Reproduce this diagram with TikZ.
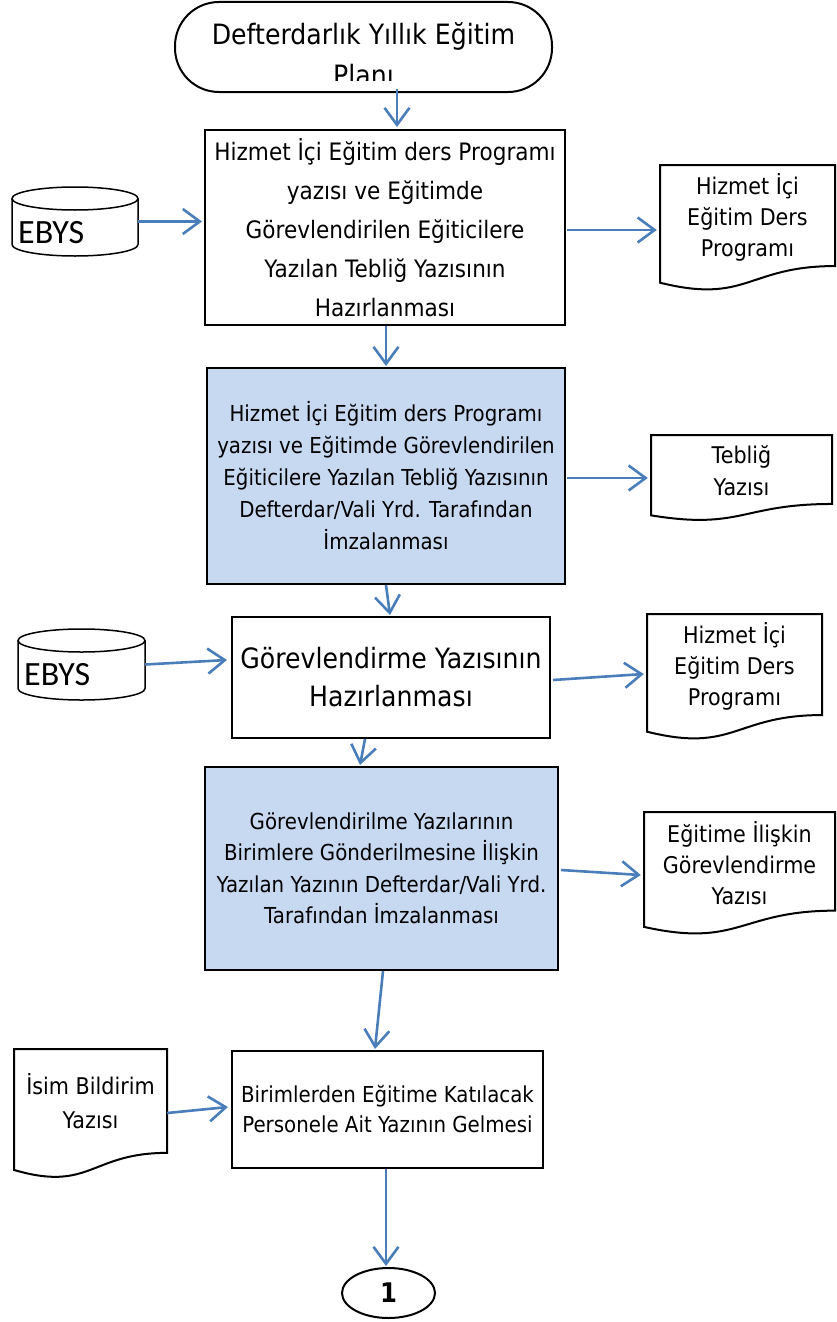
\documentclass[tikz,border=0pt]{standalone}
\usepackage{fontspec}
\setmainfont{DejaVu Sans}[FakeStretch=0.9]
\newfontfamily\ebysfont{Carlito}
\usetikzlibrary{arrows.meta,calc,shapes.geometric}
\definecolor{arrowblue}{HTML}{4A7EBB}
\definecolor{boxblue}{HTML}{C6D9F1}
\tikzset{
  procbox/.style={draw=black, line width=2pt, fill=white, inner sep=2pt, align=center, font=\fontsize{22}{32}\selectfont},
  signbox/.style={procbox, fill=boxblue},
  flowarrow/.style={draw=arrowblue, line width=2.6pt, -{Straight Barb[length=17pt,width=25pt]}},
  docline/.style={draw=black, line width=2pt, fill=white},
  doctext/.style={inner sep=0pt, align=center, font=\fontsize{23}{31}\selectfont},
  cylline/.style={draw=black, line width=1.5pt, fill=white},
  ebystext/.style={inner sep=0pt, anchor=base west, font=\ebysfont\fontsize{34}{40}\selectfont},
}
\newcommand{\docpath}[4]{%
  \draw[docline] (#1,#2) -- (#3,#2) -- (#3,{#2+0.802*#4})
    .. controls ({(#1+#3)/2},{#2+0.802*#4}) and ({(#1+#3)/2},{#2+1.107*#4}) .. (#1,{#2+0.934*#4}) -- cycle;}
\newcommand{\cylpath}[5]{% cx, ytop-centre, ybottom-centre, rx, ry
  \draw[cylline] ({#1-#4},#2) -- ({#1-#4},#3) arc[start angle=180, end angle=360, x radius=#4pt, y radius=#5pt] -- ({#1+#4},#2);
  \draw[cylline] (#1,#2) ellipse [x radius=#4pt, y radius=#5pt];}
\begin{document}
\begin{tikzpicture}[x=1pt,y=-1pt]
\useasboundingbox (0,0) rectangle (837,1322);

% terminator
\node[draw=black, line width=2pt, rounded corners=44pt, minimum width=377pt, minimum height=90pt, inner sep=0pt] (term) at (363.5,47) {};
\begin{scope}
  \clip (180,0) rectangle (548,80);
  \node[anchor=base, inner sep=0pt, font=\fontsize{28}{40}\selectfont] (termtext) at (363.5,45) {Defterdarlık Yıllık Eğitim};
  \node[anchor=base, inner sep=0pt, font=\fontsize{28}{40}\selectfont] (termtext2) at (363.5,85) {Planı};
\end{scope}

% process boxes
\node[procbox, font=\fontsize{24}{39}\selectfont, minimum width=360pt, minimum height=195pt] (box1) at (385,227.5)
  {Hizmet İçi Eğitim ders Programı\\yazısı ve Eğitimde\\Görevlendirilen Eğiticilere\\Yazılan Tebliğ Yazısının\\Hazırlanması};
\node[signbox, minimum width=358pt, minimum height=216pt] (box2) at (386,476)
  {Hizmet İçi Eğitim ders Programı\\yazısı ve Eğitimde Görevlendirilen\\Eğiticilere Yazılan Tebliğ Yazısının\\Defterdar/Vali Yrd. Tarafından\\İmzalanması};
\node[procbox, font=\fontsize{28}{38}\selectfont, minimum width=318pt, minimum height=121pt] (box3) at (391,677.5)
  {Görevlendirme Yazısının\\Hazırlanması};
\node[signbox, font=\fontsize{22}{31.5}\selectfont, minimum width=353pt, minimum height=203pt] (box4) at (381.5,868.5)
  {Görevlendirilme Yazılarının\\Birimlere Gönderilmesine İlişkin\\Yazılan Yazının Defterdar/Vali Yrd.\\Tarafından İmzalanması};
\node[procbox, font=\fontsize{22}{30}\selectfont, minimum width=311pt, minimum height=117pt] (box5) at (387.5,1109.5)
  {Birimlerden Eğitime Katılacak\\Personele Ait Yazının Gelmesi};

% connector
\node[draw=black, ellipse, line width=2pt, minimum width=93pt, minimum height=50pt, inner sep=0pt,
  font=\bfseries\fontsize{27}{30}\selectfont] (conn) at (388.5,1293) {1};

% databases
\cylpath{75}{198.5}{244.5}{63}{11.5}
\node[inner sep=0pt, minimum width=126pt, minimum height=69pt] (ebys1) at (75,221.5) {};
\node[ebystext] (ebys1text) at (18,243) {EBYS};
\cylpath{81.5}{640.5}{688.5}{63.5}{11.5}
\node[inner sep=0pt, minimum width=127pt, minimum height=71pt] (ebys2) at (81.5,664.5) {};
\node[ebystext] (ebys2text) at (24,685) {EBYS};

% documents
\docpath{660}{165}{835}{126}
\node[doctext, minimum width=175pt, minimum height=101pt] (doc1) at (747.5,217) {Hizmet İçi\\Eğitim Ders\\Programı};
\docpath{651}{435}{832}{86}
\node[doctext, font=\fontsize{23}{32}\selectfont, minimum width=181pt, minimum height=69pt] (doc2) at (741.5,471) {Tebliğ\\Yazısı};
\docpath{647}{614}{822}{126}
\node[doctext, minimum width=175pt, minimum height=101pt] (doc3) at (734.5,666) {Hizmet İçi\\Eğitim Ders\\Programı};
\docpath{644}{812}{835}{123}
\node[doctext, minimum width=191pt, minimum height=99pt] (doc4) at (739.5,863) {Eğitime İlişkin\\Görevlendirme\\Yazısı};
\docpath{14}{1049}{167}{129.5}
\node[doctext, font=\fontsize{23}{34}\selectfont, minimum width=153pt, minimum height=104pt] (doc5) at (90.5,1101) {İsim Bildirim\\Yazısı};

% connectors
\draw[flowarrow] ($(term.south)+(33.5,-4)$) -- ($(box1.north)+(12,-2)$);
\draw[flowarrow] (ebys1.east) -- ($(box1.west)+(-2,-6)$);
\draw[flowarrow] ($(box1.east)+(1,2.5)$) -- ($(doc1.west)+(-3,13)$);
\draw[flowarrow] ($(box1.south)+(1,0)$) -- ($(box2.north)+(0,-1)$);
\draw[flowarrow] ($(box2.east)+(1,2)$) -- ($(doc2.west)+(-3,7)$);
\draw[flowarrow] (box2.south) -- ($(box3.north)+(-1,-1)$);
\draw[flowarrow] (ebys2.east) -- ($(box3.west)+(-4,-17.5)$);
\draw[flowarrow] ($(box3.east)+(2,2.5)$) -- ($(doc3.west)+(-3,8)$);
\draw[flowarrow] ($(box3.south)+(-26,0)$) -- ($(box4.north)+(-21.5,-1)$);
\draw[flowarrow] ($(box4.east)+(2,1.5)$) -- ($(doc4.west)+(-3,12)$);
\draw[flowarrow] ($(box4.south)+(1.5,0)$) -- ($(box5.north)+(-12.5,-1)$);
\draw[flowarrow] ($(doc5.east)+(0,12)$) -- ($(box5.west)+(-3,-2.5)$);
\draw[flowarrow] ($(box5.south)+(-1.5,0)$) -- ($(conn.north)+(-2.5,-1)$);
\end{tikzpicture}
\end{document}
